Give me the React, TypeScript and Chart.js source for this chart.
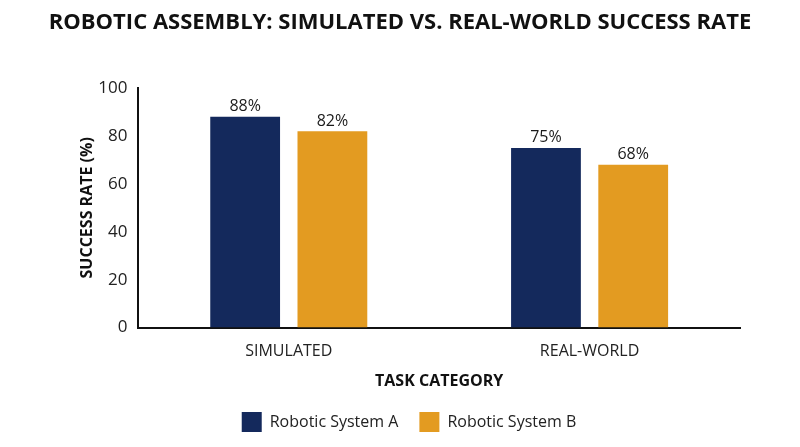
import React, { useEffect, useRef } from "react";
import { Chart, registerables } from "chart.js";

Chart.register(...registerables);

const chartTitle = "ROBOTIC ASSEMBLY: SIMULATED VS. REAL-WORLD SUCCESS RATE";
const categories = ["SIMULATED", "REAL-WORLD"];
const seriesNames = ["Robotic System A", "Robotic System B"];
const systemA = [88, 75];
const systemB = [82, 68];
const yTicks = [0, 20, 40, 60, 80, 100];

const FONT = "'Open Sans', 'Noto Sans', sans-serif";

const valueLabels = {
  id: "valueLabels",
  afterDatasetsDraw(chart: any) {
    const ctx = chart.ctx;
    ctx.save();
    ctx.font = `16px ${FONT}`;
    ctx.fillStyle = "#1a1a1a";
    ctx.textAlign = "center";
    ctx.textBaseline = "bottom";
    chart.data.datasets.forEach((ds: any, i: number) => {
      const meta = chart.getDatasetMeta(i);
      meta.data.forEach((bar: any, j: number) => {
        ctx.fillText(`${ds.data[j]}%`, bar.x, bar.y - 2);
      });
    });
    ctx.restore();
  },
};

const centeredTitle = {
  id: "centeredTitle",
  afterDraw(chart: any) {
    const ctx = chart.ctx;
    ctx.save();
    ctx.font = `bold 22px ${FONT}`;
    ctx.fillStyle = "#111";
    ctx.textAlign = "center";
    ctx.textBaseline = "middle";
    ctx.fillText(chartTitle, chart.width / 2, 23);
    ctx.restore();
  },
};

export default function App() {
  const ref = useRef<HTMLCanvasElement>(null);
  useEffect(() => {
    document.body.style.margin = "0";
    const chart = new Chart(ref.current!, {
      type: "bar",
      data: {
        labels: categories,
        datasets: [
          {
            label: seriesNames[0],
            data: systemA,
            backgroundColor: "#14295c",
            categoryPercentage: 0.58,
            barPercentage: 0.8,
          },
          {
            label: seriesNames[1],
            data: systemB,
            backgroundColor: "#e39b21",
            categoryPercentage: 0.58,
            barPercentage: 0.8,
          },
        ],
      },
      options: {
        animation: false,
        responsive: false,
        layout: { padding: { left: 78, right: 60, top: 88, bottom: 5 } },
        plugins: {
          title: { display: false },
          legend: {
            position: "bottom",
            labels: {
              color: "#222",
              font: { family: FONT, size: 16 },
              boxWidth: 20,
              boxHeight: 20,
              padding: 21,
            },
          },
          tooltip: { enabled: false },
        },
        scales: {
          x: {
            grid: { display: false },
            border: { display: true, color: "#111", width: 2 },
            ticks: { color: "#222", font: { family: FONT, size: 16 }, padding: 6 },
            title: {
              display: true,
              text: "TASK CATEGORY",
              color: "#111",
              font: { family: FONT, size: 16, weight: "bold" },
              padding: { top: 5, bottom: 0 },
            },
          },
          y: {
            min: 0,
            max: 100,
            afterBuildTicks: (axis: any) => {
              axis.ticks = yTicks.map((v) => ({ value: v }));
            },
            grid: { display: false, drawTicks: false },
            border: { display: true, color: "#111", width: 2 },
            ticks: { color: "#222", font: { family: FONT, size: 17 }, padding: 11 },
            title: {
              display: true,
              text: "SUCCESS RATE (%)",
              color: "#111",
              font: { family: FONT, size: 16, weight: "bold" },
              padding: { top: 0, bottom: -10 },
            },
          },
        },
      },
      plugins: [valueLabels, centeredTitle],
    });
    return () => chart.destroy();
  }, []);
  return <canvas ref={ref} width={800} height={447} style={{ display: "block" }} />;
}
